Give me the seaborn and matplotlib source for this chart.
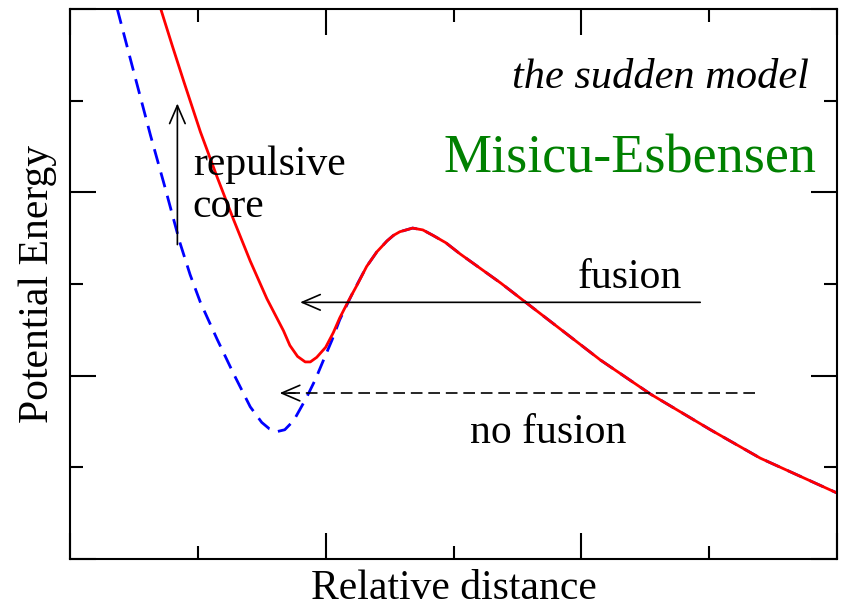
import numpy as np
import pandas as pd
import matplotlib
matplotlib.use("Agg")
import matplotlib.pyplot as plt
from matplotlib.ticker import MultipleLocator, NullFormatter
import seaborn as sns

# Potential with the repulsive core (sudden model)
r_core = [0.71, 0.80, 0.89, 1.02, 1.15, 1.28, 1.41, 1.54, 1.67, 1.72, 1.78,
          1.84, 1.88, 1.93, 2.00, 2.06, 2.11, 2.18, 2.25, 2.32, 2.40, 2.48,
          2.53, 2.58, 2.68, 2.76, 2.84, 2.94, 3.05, 3.21, 3.37, 3.76, 4.15,
          4.54, 5.01, 5.40, 6.00]
v_core = [6.00, 5.60, 5.21, 4.66, 4.17, 3.70, 3.25, 2.84, 2.49, 2.33, 2.21,
          2.15, 2.15, 2.20, 2.31, 2.47, 2.63, 2.82, 3.00, 3.19, 3.35, 3.47,
          3.53, 3.57, 3.61, 3.59, 3.53, 3.45, 3.33, 3.17, 3.01, 2.59, 2.17,
          1.80, 1.41, 1.10, 0.72]

# Potential without the core (frozen density)
r_bare = [0.37, 0.49, 0.63, 0.74, 0.86, 0.94, 1.02, 1.15, 1.28, 1.41, 1.50,
          1.56, 1.62, 1.68, 1.75, 1.85, 1.92, 1.98, 2.05, 2.11, 2.21, 2.32,
          2.40, 2.48, 2.53, 2.58, 2.68, 2.76, 2.84, 2.94, 3.05, 3.21, 3.37,
          3.76, 4.15, 4.54, 5.01, 5.40, 6.00]
v_bare = [6.00, 5.36, 4.62, 4.07, 3.45, 3.10, 2.80, 2.40, 2.02, 1.66, 1.49,
          1.42, 1.39, 1.41, 1.51, 1.76, 1.96, 2.16, 2.39, 2.61, 2.90, 3.19,
          3.35, 3.47, 3.53, 3.57, 3.61, 3.59, 3.53, 3.45, 3.33, 3.17, 3.01,
          2.59, 2.17, 1.80, 1.41, 1.10, 0.72]

# Energies of the two incoming channels and the core arrow span
e_fusion = 2.80
e_nofusion = 1.81
fusion_span = (4.93, 1.80)
nofusion_span = (5.36, 1.64)
core_arrow_x = 0.84
core_arrow_span = (3.43, 4.97)

sns.set_theme(style="white")
plt.rcParams["font.family"] = ["Liberation Serif", "DejaVu Serif"]
for key in ("text.color", "axes.labelcolor", "xtick.color", "ytick.color",
            "axes.edgecolor"):
    plt.rcParams[key] = "black"

fig = plt.figure(figsize=(8.46, 6.10), dpi=100)
ax = fig.add_axes([70 / 846, 51 / 610, 767 / 846, 550 / 610])

core_df = pd.DataFrame({"r": r_core, "V": v_core})
bare_df = pd.DataFrame({"r": r_bare, "V": v_bare})

sns.lineplot(data=bare_df, x="r", y="V", ax=ax, color="#0000ff", lw=2.0,
             estimator=None, sort=False)
ax.lines[-1].set_dashes((5.5, 3.2))
sns.lineplot(data=core_df, x="r", y="V", ax=ax, color="#ff0000", lw=2.0,
             estimator=None, sort=False)
for ln in ax.lines:
    ln.set_solid_joinstyle("round")
    ln.set_dash_joinstyle("round")

ax.set_xlim(0, 6)
ax.set_ylim(0, 6)

# Arrows
arrow_kw = dict(arrowstyle="->,head_length=0.65,head_width=0.28",
                mutation_scale=20, lw=1.2, color="black", shrinkA=0, shrinkB=0)
ax.annotate("", xy=(core_arrow_x, core_arrow_span[1]),
            xytext=(core_arrow_x, core_arrow_span[0]), arrowprops=arrow_kw)
ax.annotate("", xy=(fusion_span[1], e_fusion),
            xytext=(fusion_span[0], e_fusion), arrowprops=arrow_kw)
# dashed shaft with a solid head for the non-fusing channel
ax.plot([nofusion_span[0], nofusion_span[1] + 0.03], [e_nofusion, e_nofusion],
        color="black", lw=1.2, dashes=(7, 3.5))
ax.annotate("", xy=(nofusion_span[1], e_nofusion),
            xytext=(nofusion_span[1] + 0.12, e_nofusion), arrowprops=arrow_kw)

# Labels inside the plot
fs = 30
ax.text(0.96, 4.19, "repulsive", fontsize=fs, ha="left", va="baseline")
ax.text(0.96, 3.73, "core", fontsize=fs, ha="left", va="baseline")
ax.text(3.97, 2.96, "fusion", fontsize=fs, ha="left", va="baseline")
ax.text(3.13, 1.27, "no fusion", fontsize=fs, ha="left", va="baseline")
ax.text(5.78, 5.14, "the sudden model", fontsize=30.5, style="italic",
        ha="right", va="baseline")
ax.text(5.84, 4.22, "Misicu-Esbensen", fontsize=39, color="#008000",
        ha="right", va="baseline")

ax.set_xlabel("Relative distance", fontsize=fs, labelpad=4)
ax.set_ylabel("Potential Energy", fontsize=fs, labelpad=6)

# Ticks on all four sides, pointing inwards, without labels
ax.xaxis.set_major_locator(MultipleLocator(2))
ax.xaxis.set_minor_locator(MultipleLocator(1))
ax.yaxis.set_major_locator(MultipleLocator(2))
ax.yaxis.set_minor_locator(MultipleLocator(1))
ax.xaxis.set_major_formatter(NullFormatter())
ax.yaxis.set_major_formatter(NullFormatter())
ax.tick_params(which="both", direction="in", top=True, right=True,
               bottom=True, left=True, color="black", width=1.5)
ax.tick_params(which="major", length=19)
ax.tick_params(which="minor", length=9.5)
for s in ax.spines.values():
    s.set_color("black")
    s.set_linewidth(1.5)
ax.grid(False)

fig.savefig("out.png", dpi=100)
